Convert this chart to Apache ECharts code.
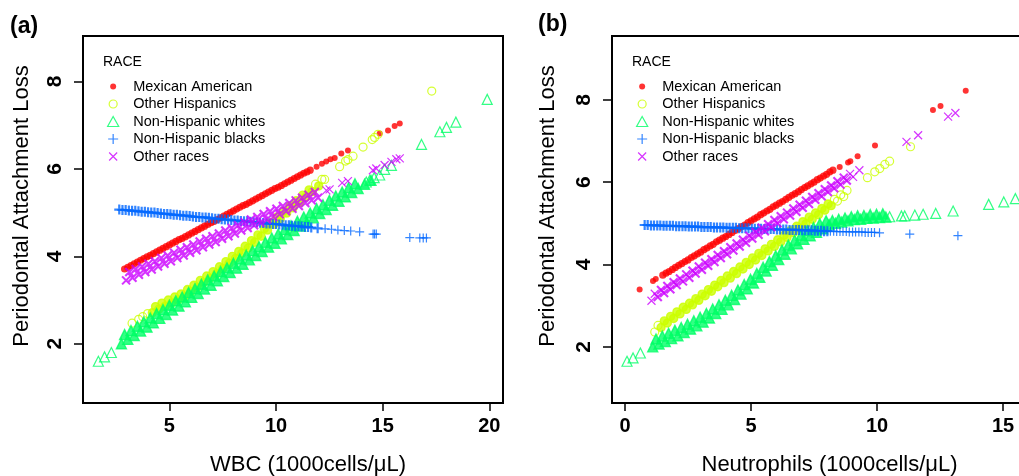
<!DOCTYPE html>
<html>
<head>
<meta charset="utf-8">
<script src="https://cdn.jsdelivr.net/npm/echarts@6/dist/echarts.min.js"></script>
<style>
  html, body { margin: 0; padding: 0; background: #fff; }
  #ct1 { width: 1019px; height: 476px; }
</style>
</head>
<body>
<div id="ct1"></div>
<script>
var raceNames = ['Mexican American', 'Other Hispanics', 'Non-Hispanic whites', 'Non-Hispanic blacks', 'Other races'];
var raceColors = ['#ff0000', '#ccff00', '#00ff66', '#0066ff', '#cc00ff'];
var wbcTicks = [5, 10, 15, 20];
var neuTicks = [0, 5, 10, 15];
var palTicks = [2, 4, 6, 8];

// panel (a): WBC -- dense part of each band, then the loose points
var wbcMexicanBand = [
    [2.9,3.71],[3.2,3.79],[3.5,3.87],[3.8,3.95],[4.1,4.02],[4.4,4.10],[4.7,4.18],[5.0,4.26],[5.3,4.34],[5.6,4.41],
    [5.9,4.49],[6.2,4.57],[6.5,4.65],[6.8,4.73],[7.1,4.80],[7.4,4.88],[7.7,4.96],[8.0,5.04],[8.3,5.12],[8.6,5.19],
    [8.9,5.27],[9.2,5.35],[9.5,5.43],[9.8,5.51],[10.1,5.58],[10.4,5.66],[10.7,5.74],[11.0,5.82],[11.3,5.90],[11.6,5.97],
    [3.05,3.75],[3.35,3.83],[3.65,3.91],[3.95,3.99],[4.25,4.06],[4.55,4.14],[4.85,4.22],[5.15,4.30],[5.45,4.38],[5.75,4.45],
    [6.05,4.53],[6.35,4.61],[6.65,4.69],[6.95,4.77],[7.25,4.84],[7.55,4.92],[7.85,5.00],[8.15,5.08],[8.45,5.16],[8.75,5.23],
    [9.05,5.31],[9.35,5.39],[9.65,5.47],[9.95,5.55],[10.25,5.62],[10.55,5.70],[10.85,5.78],[11.15,5.86],[11.45,5.93]
];
var wbcMexicanLoose = [
    [11.9,6.05],[12.15,6.12],[12.35,6.17],[12.55,6.22],[12.75,6.25],[13.06,6.35],[13.37,6.42],[14.86,6.81],[15.25,6.88],
    [15.56,6.98],[15.8,7.04]
];
var wbcHispanicBand = [
    [4.2,2.71],[4.5,2.79],[4.8,2.86],[5.1,2.93],[5.4,3.00],[5.7,3.08],[6.0,3.19],[6.3,3.29],[6.6,3.40],[6.9,3.50],
    [7.2,3.60],[7.5,3.72],[7.8,3.84],[8.1,3.95],[8.4,4.07],[8.7,4.19],[9.0,4.32],[9.3,4.46],[9.6,4.60],[9.9,4.73],
    [10.2,4.86],[10.5,4.99],[10.8,5.11],[11.1,5.23],[11.4,5.36],[11.7,5.48],[12.0,5.61],
    [4.35,2.85],[4.65,2.93],[4.95,3.00],[5.25,3.07],[5.55,3.14],[5.85,3.24],[6.15,3.34],[6.45,3.45],[6.75,3.55],
    [7.05,3.65],[7.35,3.76],[7.65,3.88],[7.95,4.00],[8.25,4.11],[8.55,4.23],[8.85,4.36],[9.15,4.49],[9.45,4.63],
    [9.75,4.77],[10.05,4.90],[10.35,5.03],[10.65,5.15],[10.95,5.27],[11.25,5.40],[11.55,5.52]
];
var wbcHispanicLoose = [
    [3.25,2.47],[3.56,2.56],[3.75,2.62],[3.98,2.69],[11.85,5.65],[12.15,5.76],[12.28,5.76],
    [12.98,6.05],[13.26,6.18],[13.37,6.21],[13.61,6.29],[14.08,6.5],[14.51,6.67],[14.62,6.72],[14.78,6.79],[17.3,7.78]
];
var wbcWhiteBand = [
    [2.75,2.00],[3.05,2.10],[3.35,2.19],[3.65,2.29],[3.95,2.38],[4.25,2.48],[4.55,2.58],[4.85,2.67],[5.15,2.77],[5.45,2.86],
    [5.75,2.96],[6.05,3.06],[6.35,3.15],[6.65,3.25],[6.95,3.34],[7.25,3.44],[7.55,3.54],[7.85,3.63],[8.15,3.73],[8.45,3.82],
    [8.75,3.92],[9.05,4.02],[9.35,4.11],[9.65,4.21],[9.95,4.30],[10.25,4.40],[10.55,4.50],[10.85,4.59],[11.15,4.69],[11.45,4.78],
    [11.75,4.88],[12.05,4.98],[12.35,5.07],[12.65,5.17],[12.95,5.26],[13.25,5.36],[13.55,5.46],[13.85,5.55],[14.15,5.65],[14.45,5.74],
    [2.9,2.21],[3.2,2.30],[3.5,2.40],[3.8,2.50],[4.1,2.59],[4.4,2.69],[4.7,2.78],[5.0,2.88],[5.3,2.98],[5.6,3.07],
    [5.9,3.17],[6.2,3.26],[6.5,3.36],[6.8,3.46],[7.1,3.55],[7.4,3.65],[7.7,3.74],[8.0,3.84],[8.3,3.94],[8.6,4.03],
    [8.9,4.13],[9.2,4.22],[9.5,4.32],[9.8,4.42],[10.1,4.51],[10.4,4.61],[10.7,4.70],[11.0,4.80],[11.3,4.90],[11.6,4.99],
    [11.9,5.09],[12.2,5.18],[12.5,5.28],[12.8,5.38],[13.1,5.47],[13.4,5.57],[13.7,5.66]
];
var wbcWhiteLoose = [
    [1.67,1.6],[1.96,1.7],[2.28,1.8],
    [14.23,5.70],[14.39,5.74],[14.6,5.8],[14.86,5.86],[15.09,5.99],[15.41,6.08],[16.82,6.56],[17.68,6.85],[17.99,6.95],
    [18.43,7.07],[19.9,7.59]
];
var wbcBlackBand = [
    [2.65,5.07],[2.95,5.06],[3.25,5.04],[3.55,5.03],[3.85,5.02],[4.15,5.00],[4.45,4.99],[4.75,4.97],[5.05,4.96],[5.35,4.95],
    [5.65,4.93],[5.95,4.92],[6.25,4.90],[6.55,4.89],[6.85,4.88],[7.15,4.86],[7.45,4.85],[7.75,4.84],[8.05,4.82],[8.35,4.81],
    [8.65,4.80],[8.95,4.78],[9.25,4.77],[9.55,4.75],[9.85,4.74],[10.15,4.73],[10.45,4.71],[10.75,4.70],[11.05,4.69],[11.35,4.67],
    [11.65,4.66],[11.95,4.64],
    [2.8,5.06],[3.1,5.05],[3.4,5.04],[3.7,5.02],[4.0,5.01],[4.3,5.00],[4.6,4.98],[4.9,4.97],[5.2,4.95],[5.5,4.94],
    [5.8,4.93],[6.1,4.91],[6.4,4.90],[6.7,4.89],[7.0,4.87],[7.3,4.86],[7.6,4.84],[7.9,4.83],[8.2,4.82],[8.5,4.80],
    [8.8,4.79],[9.1,4.78],[9.4,4.76],[9.7,4.75],[10.0,4.74],[10.3,4.72],[10.6,4.71],[10.9,4.69],[11.2,4.68],[11.5,4.67]
];
var wbcBlackLoose = [
    [12.3,4.63],[12.6,4.62],[12.9,4.60],[13.2,4.59],[13.5,4.58],[13.92,4.56],
    [14.55,4.51],[14.62,4.51],[14.7,4.51],[16.27,4.43],[16.74,4.42],[16.9,4.42],[17.05,4.42]
];
var wbcOtherBand = [
    [2.97,3.45],[3.27,3.51],[3.57,3.58],[3.87,3.64],[4.17,3.70],[4.47,3.77],[4.77,3.83],[5.07,3.89],[5.37,3.96],[5.67,4.02],
    [5.97,4.08],[6.27,4.14],[6.57,4.21],[6.87,4.27],[7.17,4.33],[7.47,4.40],[7.77,4.46],[8.07,4.52],[8.37,4.59],[8.67,4.65],
    [8.97,4.71],[9.27,4.77],[9.57,4.84],[9.87,4.90],[10.17,4.96],[10.47,5.03],[10.77,5.09],[11.07,5.15],[11.37,5.22],[11.67,5.28],
    [11.97,5.34],
    [3.12,3.64],[3.42,3.71],[3.72,3.77],[4.02,3.83],[4.32,3.89],[4.62,3.96],[4.92,4.02],[5.22,4.08],[5.52,4.15],[5.82,4.21],
    [6.12,4.27],[6.42,4.34],[6.72,4.40],[7.02,4.46],[7.32,4.52],[7.62,4.59],[7.92,4.65],[8.22,4.71],[8.52,4.78],[8.82,4.84],
    [9.12,4.90],[9.42,4.97],[9.72,5.03],[10.02,5.09],[10.32,5.15],[10.62,5.22],[10.92,5.28],[11.22,5.34],[11.52,5.41],[11.82,5.47]
];
var wbcOtherLoose = [
    [12.36,5.51],[12.51,5.53],[13.1,5.68],[13.37,5.72],[14.54,5.97],[14.7,6.01],[15.09,6.09],[15.41,6.16],[15.64,6.22],[15.8,6.24]
];

// panel (b): Neutrophils
var neuMexicanBand = [
    [1.5,3.74],[1.75,3.83],[2.0,3.93],[2.25,4.02],[2.5,4.11],[2.75,4.21],[3.0,4.30],[3.25,4.40],[3.5,4.49],[3.75,4.59],
    [4.0,4.68],[4.25,4.78],[4.5,4.87],[4.75,4.96],[5.0,5.06],[5.25,5.15],[5.5,5.25],[5.75,5.34],[6.0,5.44],[6.25,5.53],
    [6.5,5.63],[6.75,5.72],[7.0,5.82],[7.25,5.91],[7.5,6.00],[7.75,6.10],[8.0,6.19],[8.25,6.29],
    [1.63,3.79],[1.88,3.88],[2.13,3.98],[2.38,4.07],[2.63,4.17],[2.88,4.26],[3.13,4.36],[3.38,4.45],[3.63,4.55],[3.88,4.64],
    [4.13,4.73],[4.38,4.83],[4.63,4.92],[4.88,5.02],[5.13,5.11],[5.38,5.21],[5.63,5.30],[5.88,5.40],[6.13,5.49],[6.38,5.58],
    [6.63,5.68],[6.88,5.77],[7.13,5.87],[7.38,5.96],[7.63,6.06],[7.88,6.15],[8.13,6.25]
];
var neuMexicanLoose = [
    [0.58,3.39],[1.11,3.60],[1.22,3.65],
    [8.52,6.37],[8.85,6.48],[8.94,6.51],[9.23,6.63],[9.92,6.89],[12.22,7.75],[12.52,7.85],[13.52,8.22]
];
var neuHispanicBand = [
    [1.43,2.47],[1.68,2.58],[1.93,2.69],[2.18,2.80],[2.43,2.91],[2.68,3.02],[2.93,3.13],[3.18,3.24],[3.43,3.35],
    [3.68,3.46],[3.93,3.56],[4.18,3.67],[4.43,3.78],[4.68,3.89],[4.93,4.00],[5.18,4.11],[5.43,4.22],[5.68,4.33],[5.93,4.44],
    [6.18,4.55],[6.43,4.66],[6.68,4.77],[6.93,4.88],[7.18,4.99],[7.43,5.10],[7.68,5.21],[7.93,5.32],[8.18,5.43],
    [1.56,2.63],[1.81,2.74],[2.06,2.85],[2.31,2.96],[2.56,3.06],[2.81,3.17],[3.06,3.28],[3.31,3.39],[3.56,3.50],
    [3.81,3.61],[4.06,3.72],[4.31,3.83],[4.56,3.94],[4.81,4.05],[5.06,4.16],[5.31,4.27],[5.56,4.38],[5.81,4.49],[6.06,4.60],
    [6.31,4.71],[6.56,4.82],[6.81,4.93],[7.06,5.04],[7.31,5.15],[7.56,5.25],[7.81,5.36],[8.06,5.47]
];
var neuHispanicLoose = [
    [1.18,2.36],[1.31,2.52],[8.31,5.58],[8.43,5.54],[8.56,5.69],[8.68,5.65],[8.81,5.80],
    [9.62,6.11],[9.91,6.25],[10.11,6.33],[10.31,6.43],[10.5,6.51],[11.33,6.86]
];
var neuWhiteBand = [
    [1.1,2.00],[1.35,2.07],[1.6,2.13],[1.85,2.20],[2.1,2.27],[2.35,2.35],[2.6,2.43],[2.85,2.51],[3.1,2.60],[3.35,2.70],
    [3.6,2.81],[3.85,2.91],[4.1,3.02],[4.35,3.15],[4.6,3.28],[4.85,3.41],[5.1,3.55],[5.35,3.69],[5.6,3.84],[5.85,3.98],
    [6.1,4.12],[6.35,4.25],[6.6,4.38],[6.85,4.50],[7.1,4.61],[7.35,4.70],[7.6,4.78],[7.85,4.87],
    [8.1,4.97],[8.35,5.00],[8.6,5.03],[8.85,5.06],[9.1,5.09],[9.35,5.10],[9.6,5.12],[9.85,5.13],[10.1,5.14],[10.35,5.15],
    [1.23,2.19],[1.48,2.26],[1.73,2.33],[1.98,2.40],[2.23,2.47],[2.48,2.55],[2.73,2.63],[2.98,2.72],[3.23,2.81],[3.48,2.92],
    [3.73,3.02],[3.98,3.13],[4.23,3.25],[4.48,3.38],[4.73,3.51],[4.98,3.64],[5.23,3.78],[5.48,3.93],[5.73,4.07],[5.98,4.21],
    [6.23,4.35],[6.48,4.47],[6.73,4.59],[6.98,4.71],[7.23,4.82],[7.48,4.90],[7.73,4.99],[7.98,5.06],
    [8.23,5.07],[8.48,5.10],[8.73,5.13],[8.98,5.16],[9.23,5.18],[9.48,5.19],[9.73,5.21],[9.98,5.22],[10.23,5.23]
];
var neuWhiteLoose = [
    [0.08,1.65],[0.32,1.73],[0.61,1.85],
    [10.5,5.16],[10.97,5.18],[11.1,5.18],[11.5,5.20],[11.83,5.22],[12.33,5.24],[13.02,5.30],[14.43,5.46],[15.03,5.52],[15.49,5.60]
];
var neuBlackBand = [
    [0.78,4.96],[1.03,4.95],[1.28,4.95],[1.53,4.94],[1.78,4.94],[2.03,4.93],[2.28,4.93],[2.53,4.92],[2.78,4.92],[3.03,4.91],
    [3.28,4.91],[3.53,4.90],[3.78,4.90],[4.03,4.89],[4.28,4.89],[4.53,4.88],[4.78,4.88],[5.03,4.87],[5.28,4.87],[5.53,4.86],
    [5.78,4.86],[6.03,4.85],[6.28,4.85],[6.53,4.84],[6.78,4.84],[7.03,4.83],[7.28,4.83],[7.53,4.82],[7.78,4.82],[8.03,4.81],
    [0.9,4.96],[1.15,4.95],[1.4,4.95],[1.65,4.94],[1.9,4.94],[2.15,4.93],[2.4,4.93],[2.65,4.92],[2.9,4.92],[3.15,4.91],
    [3.4,4.91],[3.65,4.90],[3.9,4.90],[4.15,4.89],[4.4,4.89],[4.65,4.88],[4.9,4.88],[5.15,4.87],[5.4,4.87],[5.65,4.86],
    [5.9,4.86],[6.15,4.85],[6.4,4.85],[6.65,4.84],[6.9,4.84],[7.15,4.83],[7.4,4.83],[7.65,4.82],[7.9,4.81]
];
var neuBlackLoose = [
    [8.15,4.81],[8.28,4.81],[8.4,4.80],[8.53,4.80],[8.65,4.80],[8.78,4.80],[8.9,4.79],[9.03,4.79],[9.15,4.79],[9.28,4.79],
    [9.4,4.79],[9.53,4.78],[9.65,4.78],[9.78,4.78],[9.9,4.78],[10.1,4.77],
    [11.3,4.74],[13.21,4.70]
];
var neuOtherBand = [
    [1.3,3.21],[1.55,3.31],[1.8,3.40],[2.05,3.50],[2.3,3.59],[2.55,3.68],[2.8,3.78],[3.05,3.87],[3.3,3.97],
    [3.55,4.06],[3.8,4.16],[4.05,4.25],[4.3,4.34],[4.55,4.44],[4.8,4.53],[5.05,4.63],[5.3,4.72],[5.55,4.81],[5.8,4.91],
    [6.05,5.00],[6.3,5.10],[6.55,5.19],[6.8,5.28],[7.05,5.38],[7.3,5.47],[7.55,5.57],[7.8,5.66],[8.05,5.76],[8.3,5.85],
    [8.55,5.94],[8.8,6.04],
    [1.43,3.38],[1.68,3.48],[1.93,3.57],[2.18,3.66],[2.43,3.76],[2.68,3.85],[2.93,3.95],[3.18,4.04],[3.43,4.13],
    [3.68,4.23],[3.93,4.32],[4.18,4.42],[4.43,4.51],[4.68,4.60],[4.93,4.70],[5.18,4.79],[5.43,4.89],[5.68,4.98],[5.93,5.08],
    [6.18,5.17],[6.43,5.26],[6.68,5.36],[6.93,5.45],[7.18,5.55],[7.43,5.64],[7.68,5.73],[7.93,5.83],[8.18,5.92],[8.43,6.02],
    [8.68,6.11]
];
var neuOtherLoose = [
    [1.05,3.12],[1.18,3.29],[9.05,6.13],[8.93,6.20],[9.3,6.29],
    [11.17,6.98],[11.63,7.14],[12.82,7.59],[13.11,7.68]
];

var wbcBands = [wbcMexicanBand, wbcHispanicBand, wbcWhiteBand, wbcBlackBand, wbcOtherBand];
var wbcLoose = [wbcMexicanLoose, wbcHispanicLoose, wbcWhiteLoose, wbcBlackLoose, wbcOtherLoose];
var neuBands = [neuMexicanBand, neuHispanicBand, neuWhiteBand, neuBlackBand, neuOtherBand];
var neuLoose = [neuMexicanLoose, neuHispanicLoose, neuWhiteLoose, neuBlackLoose, neuOtherLoose];

// pch-like marks, drawn in a 10x10 box
var raceSymbols = [
    'path://M0,0M10,10M2,5A3,3 0 1 1 8,5A3,3 0 1 1 2,5Z',
    'path://M0,0M10,10M1,5A4,4 0 1 1 9,5A4,4 0 1 1 1,5Z',
    'path://M5,0.5L10,9.5L0,9.5Z',
    'path://M0,5L10,5M5,0L5,10',
    'path://M0,0M10,10M1,1L9,9M9,1L1,9'
];
var raceSizes = [10, 10, 10, 9, 10];
// hundreds of overlapping marks make the dense bands look solid
var bandSizes = [12, 10, 10, 10, 10];
var bandFill = ['#ff0000', '#ccff00', '#00ff66', 'rgba(0,0,0,0)', 'rgba(0,0,0,0)'];
var bandStroke = [0, 1.4, 1.4, 2.2, 2.1];

var fontName = 'Liberation Sans, Arial, sans-serif';
var myChart1;

function raceSeries(i, idx, band, loose) {
    var style = i === 0
        ? {color: raceColors[0]}
        : {color: 'rgba(0,0,0,0)', borderColor: raceColors[i], borderWidth: 1.2};
    var items = band.map(function (p) {
        return {
            value: p,
            symbolSize: bandSizes[i],
            itemStyle: {color: bandFill[i], borderColor: raceColors[i], borderWidth: bandStroke[i]}
        };
    });
    return {
        name: raceNames[i],
        type: 'scatter',
        xAxisIndex: idx,
        yAxisIndex: idx,
        data: items.concat(loose),
        symbol: raceSymbols[i],
        symbolSize: raceSizes[i],
        itemStyle: style,
        silent: true,
        emphasis: {disabled: true}
    };
}

function xAxisOf(idx, ticks, min, max, title, shift) {
    return {
        gridIndex: idx, type: 'value', min: min, max: max, position: 'bottom',
        axisLine: {show: true, onZero: false, lineStyle: {color: '#000', width: 2}},
        splitLine: {show: false},
        axisTick: {show: true, inside: false, customValues: ticks, length: 8, lineStyle: {color: '#000', width: 1.5}},
        axisLabel: {show: true, customValues: ticks, margin: 13, color: '#000', fontSize: 20, fontWeight: 'bold', fontFamily: fontName},
        name: title, nameLocation: 'middle', nameGap: 51, nameMoveOverlap: false,
        nameTextStyle: {fontSize: 22, color: '#000', fontFamily: fontName, padding: [0, 0, 0, shift]}
    };
}

function yAxisOf(idx, min, max, gap) {
    return {
        gridIndex: idx, type: 'value', min: min, max: max, position: 'left',
        axisLine: {show: true, onZero: false, lineStyle: {color: '#000', width: 2}},
        splitLine: {show: false},
        axisTick: {show: true, inside: false, customValues: palTicks, length: 9, lineStyle: {color: '#000', width: 1.5}},
        axisLabel: {show: true, customValues: palTicks, rotate: 90, margin: 17, color: '#000', fontSize: 21, fontWeight: 'bold', fontFamily: fontName},
        name: 'Periodontal Attachment Loss', nameLocation: 'middle', nameGap: gap, nameMoveOverlap: false,
        nameTextStyle: {fontSize: 22, color: '#000', fontFamily: fontName, padding: [0, 0, 0, 27]}
    };
}

function legendOf(left) {
    return {
        orient: 'vertical', left: left, top: 74,
        itemWidth: 30, itemHeight: 10, itemGap: 2.5,
        selectedMode: false,
        itemStyle: {borderWidth: 1.2},
        textStyle: {fontSize: 14.5, lineHeight: 14, color: '#000', fontFamily: fontName},
        data: raceNames
    };
}

var series1 = [];
for (var i = 0; i < raceNames.length; i++) {
    series1.push(raceSeries(i, 0, wbcBands[i], wbcLoose[i]));
}
for (var j = 0; j < raceNames.length; j++) {
    series1.push(raceSeries(j, 1, neuBands[j], neuLoose[j]));
}

var option1 = {
    animation: false,
    backgroundColor: '#fff',
    textStyle: {fontFamily: fontName},
    title: [
        {text: '(a)', left: 10, top: 15, padding: 0, textStyle: {fontSize: 23, fontWeight: 'bold', color: '#000', fontFamily: fontName}},
        {text: '(b)', left: 538, top: 13, padding: 0, textStyle: {fontSize: 23, fontWeight: 'bold', color: '#000', fontFamily: fontName}},
        {text: 'RACE', left: 103, top: 55, padding: 0, textStyle: {fontSize: 14, fontWeight: 'normal', color: '#000', fontFamily: fontName}},
        {text: 'RACE', left: 632, top: 55, padding: 0, textStyle: {fontSize: 14, fontWeight: 'normal', color: '#000', fontFamily: fontName}}
    ],
    legend: [legendOf(102), legendOf(631)],
    grid: [
        {left: 83, top: 36, width: 420, height: 367, show: true, borderColor: '#000', borderWidth: 2, outerBoundsMode: 'none'},
        {left: 612, top: 36, width: 420, height: 367, show: true, borderColor: '#000', borderWidth: 2, outerBoundsMode: 'none'}
    ],
    xAxis: [
        xAxisOf(0, wbcTicks, 0.95, 20.64, 'WBC (1000cells/\u03bcL)', 30),
        xAxisOf(1, neuTicks, -0.516, 16.15, 'Neutrophils (1000cells/\u03bcL)', 15)
    ],
    yAxis: [
        yAxisOf(0, 0.645, 9.04, 50),
        yAxisOf(1, 0.636, 9.55, 53)
    ],
    series: series1
};

function initMyChar1() {
    if (myChart1 && myChart1.dispose) {
        myChart1.dispose();
    }
    myChart1 = echarts.init(document.getElementById('ct1'));
    window.onresize = myChart1.resize;
    myChart1.setOption(option1, true);
}

initMyChar1();
</script>
</body>
</html>
